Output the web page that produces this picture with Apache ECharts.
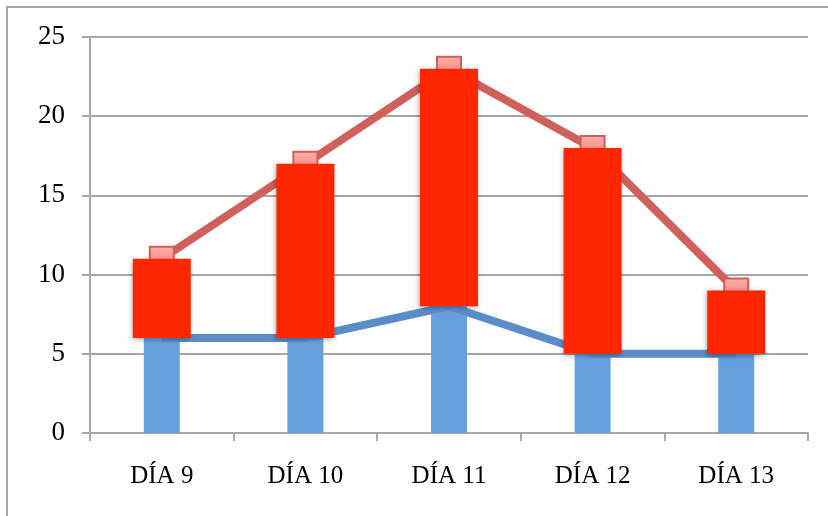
<!DOCTYPE html>
<html>
<head>
<meta charset="utf-8">
<script src="https://cdn.jsdelivr.net/npm/echarts@6/dist/echarts.min.js"></script>
<style>
  html, body { margin: 0; padding: 0; background: #ffffff; }
  #frame { position: absolute; left: 6px; top: 6px; width: 840px; height: 530px;
           border-left: 2px solid #a6a6a6; border-top: 2px solid #a6a6a6; }
  #chart { position: absolute; left: 0; top: 0; width: 828px; height: 516px; }
</style>
</head>
<body>
<div id="frame"></div>
<div id="chart"></div>
<script>
// Daily minimum and maximum values
const categories = ['DÍA 9', 'DÍA 10', 'DÍA 11', 'DÍA 12', 'DÍA 13'];
const lowValues = [6, 6, 8, 5, 5];
const highValues = [11, 17, 23, 18, 9];
const yTicks = [0, 5, 10, 15, 20, 25];

const rangeValues = highValues.map((h, i) => h - lowValues[i]);

const font = '"Liberation Serif", "DejaVu Serif", serif';
const gray = '#a6a6a6';

const chart = echarts.init(document.getElementById('chart'), null, { renderer: 'canvas' });
chart.setOption({
  animation: false,
  grid: { left: 90, right: 20, top: 37, bottom: 83 },
  xAxis: [
    {
      type: 'category',
      data: categories,
      axisLine: { lineStyle: { color: gray, width: 2 } },
      axisTick: { show: true, length: 8, lineStyle: { color: gray, width: 2 } },
      axisLabel: { color: '#000', fontFamily: font, fontSize: 25, margin: 31 }
    },
    {
      type: 'category',
      data: categories,
      show: false,
      position: 'bottom'
    }
  ],
  yAxis: {
    type: 'value',
    min: yTicks[0],
    max: yTicks[yTicks.length - 1],
    interval: 5,
    axisLine: { show: true, lineStyle: { color: gray, width: 2 } },
    axisTick: { show: true, length: 8, lineStyle: { color: gray, width: 2 } },
    splitLine: { lineStyle: { color: gray, width: 2 } },
    axisLabel: { color: '#000', fontFamily: font, fontSize: 27, margin: 25 }
  },
  series: [
    {
      name: 'base',
      type: 'bar',
      xAxisIndex: 0,
      data: lowValues,
      barWidth: 36,
      itemStyle: { color: '#66a1de' },
      z: 1
    },
    {
      name: 'min',
      type: 'line',
      xAxisIndex: 0,
      data: lowValues,
      symbol: 'none',
      lineStyle: { color: '#5a8dc8', width: 8 },
      z: 2
    },
    {
      name: 'max',
      type: 'line',
      xAxisIndex: 0,
      data: highValues,
      symbol: 'rect',
      symbolSize: 24,
      lineStyle: { color: '#d0605b', width: 8 },
      itemStyle: {
        color: new echarts.graphic.LinearGradient(0, 0, 0, 1, [
          { offset: 0, color: '#ffb0ab' },
          { offset: 1, color: '#f27a74' }
        ]),
        borderColor: '#cf5f5a',
        borderWidth: 2
      },
      z: 3
    },
    {
      name: 'offset',
      type: 'bar',
      xAxisIndex: 1,
      stack: 'range',
      data: lowValues,
      barWidth: 58,
      itemStyle: { color: 'rgba(0,0,0,0)' },
      z: 4
    },
    {
      name: 'range',
      type: 'bar',
      xAxisIndex: 1,
      stack: 'range',
      data: rangeValues,
      barWidth: 58,
      itemStyle: {
        color: '#ff2600',
        shadowColor: 'rgba(0,0,0,0.35)',
        shadowBlur: 5,
        shadowOffsetX: -1,
        shadowOffsetY: 2
      },
      z: 5
    }
  ]
});
</script>
</body>
</html>
